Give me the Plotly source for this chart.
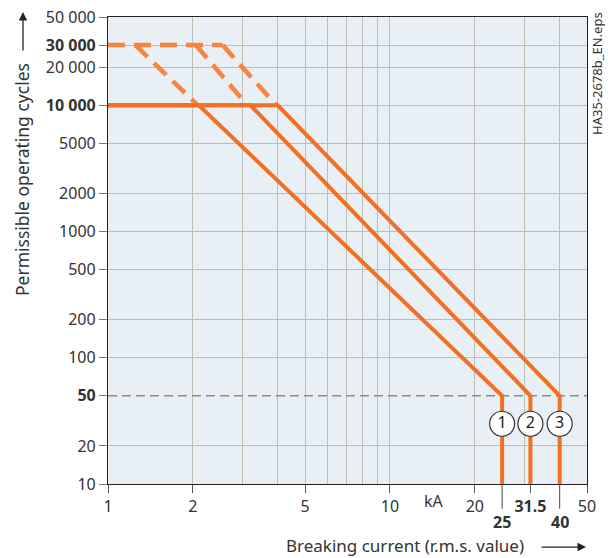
import math
import plotly.graph_objects as go

# ---- data ----
ratings = ["1", "2", "3"]
rated_ka = [25, 31.5, 40]
knee_ka = [2.1, 3.2, 4.0]
cycles_flat = 10000
cycles_min = 50
cycles_bottom = 10
x_start = 1

dash_top_x = [1, 2.55]
dash_top_y = [30000, 30000]
dash1_x = [1.25, 2.08]
dash2_x = [2.05, 3.12]
dash3_x = [2.55, 3.95]
dash_y = [30000, 10000]

label_cycles = 30

x_tickvals = [1, 2, 5, 10, 20, 31.5, 50]
x_ticktext = ["1", "2", "5", "10", "20", "<b>31.5</b>", "50"]
x_grid = [2, 3, 4, 5, 6, 7, 8, 9, 10, 20, 30, 40]
y_tickvals = [10, 20, 50, 100, 200, 500, 1000, 2000, 5000, 10000, 20000, 30000, 50000]
y_ticktext = ["10", "20", "<b>50</b>", "100", "200", "500", "1000", "2000", "5000",
              "<b>10 000</b>", "20 000", "<b>30 000</b>", "50 000"]
y_grid = [20, 100, 200, 500, 1000, 2000, 5000, 10000, 20000, 30000]
extra_x_labels = [25, 40]

ORANGE = "#f36f21"
ORANGE_D = "#f7853f"
TXT = "#333333"
FONT = "Noto Sans"

fig = go.Figure()

# grey dashed 50 line
fig.add_trace(go.Scatter(x=[1, 50], y=[cycles_min, cycles_min], mode="lines",
                         line=dict(color="#8c8c8c", width=1.5, dash="9px,5px"),
                         hoverinfo="skip", showlegend=False))

# dashed extensions
for xs, ys in [(dash_top_x, dash_top_y), (dash1_x, dash_y), (dash2_x, dash_y), (dash3_x, dash_y)]:
    fig.add_trace(go.Scatter(x=xs, y=ys, mode="lines",
                             line=dict(color=ORANGE_D, width=4.5, dash="17px,9px"),
                             showlegend=False))

# solid curves
for r, k in zip(rated_ka, knee_ka):
    fig.add_trace(go.Scatter(x=[x_start, k, r, r],
                             y=[cycles_flat, cycles_flat, cycles_min, cycles_bottom],
                             mode="lines", line=dict(color=ORANGE, width=4),
                             showlegend=False))

# numbered circles
fig.add_trace(go.Scatter(x=rated_ka, y=[label_cycles] * 3, mode="markers+text",
                         text=ratings, textposition="middle center",
                         textfont=dict(family=FONT, size=16, color="#222"),
                         marker=dict(size=25, color="white", line=dict(color="#333", width=1.2)),
                         showlegend=False))

fig.update_xaxes(type="log", range=[0, 1.69897], tickmode="array",
                 tickvals=x_tickvals, ticktext=x_ticktext,
                 showgrid=False, ticks="outside", ticklen=8, tickcolor="#555",
                 tickfont=dict(family=FONT, size=16, color=TXT),
                 showline=True, linecolor="#222", linewidth=1.2, mirror=True,
                 minor=dict(tickmode="array", tickvals=x_grid, showgrid=True,
                            gridcolor="#bdbfb3", gridwidth=1.3, ticks=""),
                 zeroline=False, automargin=False)
fig.update_yaxes(type="log", range=[1, 4.69897], tickmode="array",
                 tickvals=y_tickvals, ticktext=y_ticktext,
                 showgrid=False, ticks="outside", ticklen=8, tickcolor="#777",
                 tickfont=dict(family=FONT, size=16, color=TXT),
                 showline=True, linecolor="#222", linewidth=1.2, mirror=True,
                 minor=dict(tickmode="array", tickvals=y_grid, showgrid=True,
                            gridcolor="#bdbfb3", gridwidth=1.3, ticks=""),
                 zeroline=False, automargin=False)

annotations = []
# kA label
annotations.append(dict(x=1.156, y=-0.036, xref="x", yref="paper", text="kA",
                        showarrow=False, font=dict(family=FONT, size=16, color=TXT),
                        xanchor="center", yanchor="middle"))
for v in extra_x_labels:
    annotations.append(dict(x=math.log10(v), y=-0.081, xref="x", yref="paper",
                            text="<b>%d</b>" % v, showarrow=False,
                            font=dict(family=FONT, size=16, color=TXT),
                            xanchor="center", yanchor="middle"))
# axis titles
annotations.append(dict(x=-0.1795, y=0.651, xref="paper", yref="paper",
                        text="Permissible operating cycles", textangle=-90, showarrow=False,
                        xanchor="center", yanchor="middle",
                        font=dict(family=FONT, size=17.5, color=TXT)))
annotations.append(dict(x=0.619, y=-0.131, xref="paper", yref="paper",
                        text="Breaking current (r.m.s. value)", showarrow=False,
                        xanchor="center", yanchor="middle",
                        font=dict(family=FONT, size=17, color=TXT)))
# arrows
annotations.append(dict(x=-0.1775, y=1.0107, xref="paper", yref="paper", ax=0, ay=40,
                        text="", showarrow=True,
                        arrowhead=2, arrowsize=1.3, arrowwidth=1.3, arrowcolor="#222"))
annotations.append(dict(x=0.998, y=-0.135, xref="paper", yref="paper", ax=-46, ay=0,
                        text="", showarrow=True,
                        arrowhead=2, arrowsize=1.3, arrowwidth=1.3, arrowcolor="#222"))
# file label
annotations.append(dict(x=1.0209, y=0.878, xref="paper", yref="paper",
                        text="HA35-2678b_EN.eps", textangle=-90, showarrow=False,
                        xanchor="center", yanchor="middle",
                        font=dict(family=FONT, size=13, color=TXT)))

shapes = []
for v in extra_x_labels:
    shapes.append(dict(type="line", xref="x", yref="paper", x0=v, x1=v,
                       y0=0, y1=-0.053, line=dict(color="#444", width=1)))

fig.update_layout(width=608, height=558, margin=dict(l=108, r=21, t=17, b=74),
                  plot_bgcolor="#e8f0f6", paper_bgcolor="white",
                  annotations=annotations, shapes=shapes, showlegend=False)

fig.write_html("out.html", config={"displayModeBar": False},
               post_script="document.body.style.margin='0';document.body.style.padding='0';")
